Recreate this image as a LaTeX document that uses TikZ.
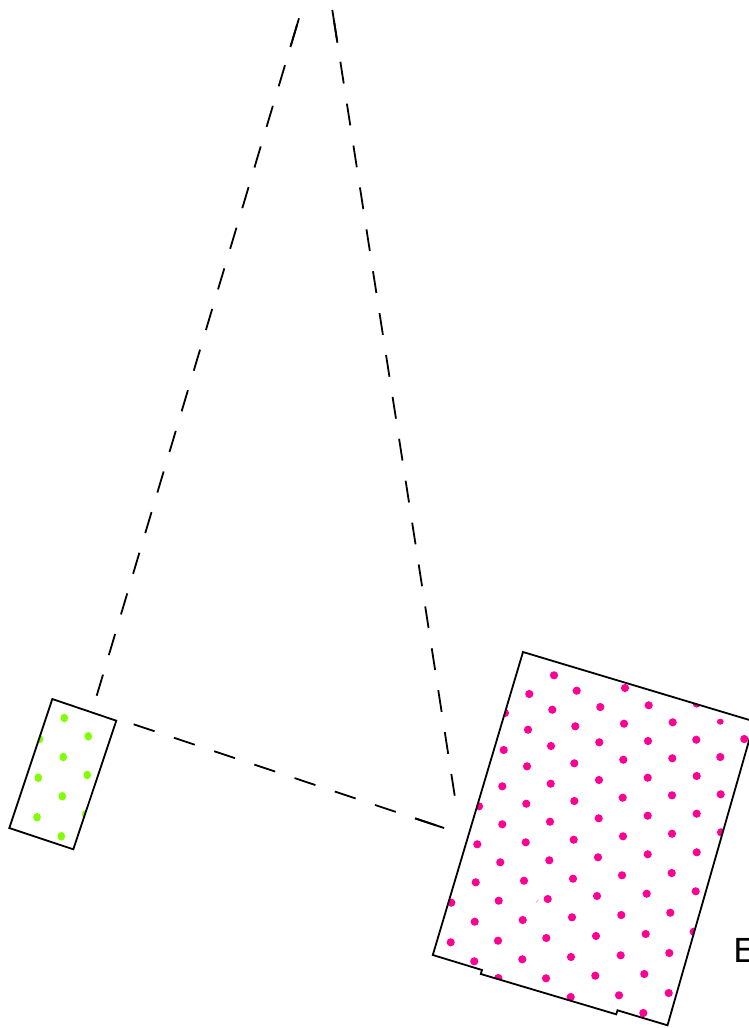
\documentclass[tikz,border=0pt]{standalone}
\usepackage{fontspec}
\setmainfont{DejaVu Sans}
\definecolor{dotpink}{HTML}{FF0094}
\definecolor{dotgreen}{HTML}{80FF00}
\tikzset{
  outline/.style={line width=1.8pt,line join=miter,draw=black},
  dashline/.style={line width=1.8pt,draw=black,dash pattern=on 22pt off 20.4pt},
  dashend/.style={line width=1.8pt,draw=black},
  pinkdot/.style={fill=dotpink,draw=none},
  greendot/.style={fill=dotgreen,draw=none},
  lettertext/.style={anchor=base west,inner sep=0pt,font=\fontsize{33}{33}\selectfont}
}
\begin{document}
\begin{tikzpicture}[x=1pt,y=-1pt]
\clip (0,0) rectangle (749,1028);
% small rectangle
\coordinate (sa) at (52.3,699);
\coordinate (sb) at (116.3,720.7);
\coordinate (sc) at (73.3,849.3);
\coordinate (sd) at (9.3,828);
% large outline
\coordinate (la) at (523,652);
\coordinate (lb) at (754.5,721.5);
\coordinate (lc) at (667.5,1025.3);
\coordinate (ld) at (617.5,1010.3);
\coordinate (le) at (616.2,1014.3);
\coordinate (lf) at (480.8,974);
\coordinate (lg) at (482,970);
\coordinate (lh) at (432.8,955);
% dashed line ends
\coordinate (p1) at (96.7,695.7);
\coordinate (p1m) at (290.4,47);
\coordinate (p1t) at (299,18.3);
\coordinate (p2) at (454.7,795.7);
\coordinate (p2m) at (337.4,42.7);
\coordinate (p2t) at (332.3,10);
\coordinate (p3) at (133.7,724.3);
\coordinate (p3m) at (415,818.3);
\coordinate (p3t) at (444,828);
\begin{scope}
\clip (sa) -- (sb) -- (sc) -- (sd) -- cycle;
\foreach \x/\y in {64.3/718,88.3/736.3,39.5/739,63.3/757,38.3/777.7,87.3/775,62.3/796.3,37/817.3,85.8/814.3,61.3/836.3}
  \fill[greendot] (\x,\y) ellipse[x radius=3.8,y radius=4.3];
\end{scope}
\begin{scope}
\clip (la) -- (lb) -- (lc) -- (ld) -- (le) -- (lf) -- (lg) -- (lh) -- cycle;
\foreach \x/\y in {554/675.3,529.3/694,576.7/690.7,505/713,552.3/709.7,600.3/707,528/729.7,575.3/726.3,503.7/750,551/746,599.3/742.3,527/766.3,574.3/763.3,502.3/786.3,550.7/783.7,599/780,479/806.3,526.3/803.7,574.3/801,502.3/824.3,550/821.7,598.7/818.3,
625/688,648.7/705.3,696.7/703.5,624/723.7,672.7/722.3,744.3/739,648/741,696.3/739.7,623.3/759.7,672.3/758.3,720.3/757,647.7/777.7,696.7/776,622.7/797.7,672/795.3,720.7/794.3,647.7/815.7,696.7/813.7,623/836.3,672/833.7,721/832.3,
477.3/844.3,525.7/842.3,573.7/839.7,500.3/862.3,549.3/860.3,598/857.3,475.7/882.3,524/880.7,573/878.7,451.3/902.7,498.7/900.7,547.7/899,597/896,474.7/921.7,522.7/920,572/917.3,450.7/942.3,498/940.7,546.3/938,596/936,474.3/961.3,522.3/959.3,571/957,498.3/978,546/978.3,595.3/975.7,570.7/997,619/995.3,
647.7/854.3,696.7/852.3,622/875.3,671.7/873,646.7/893.7,695.7/891.3,621.3/915,670.3/912.7,645.7/934,693.7/931.7,620.7/955.3,669.3/953,644.3/974,668.7/993,643.3/1013}
  \fill[pinkdot] (\x,\y) circle[radius=4.1];
\fill[pinkdot] (720.3,721.7) ellipse[x radius=3.4,y radius=3];
\draw[dotpink!40,line width=0.8pt] (536,902.5) -- (538.5,899.5);
\end{scope}
\draw[outline] (sa) -- (sb) -- (sc) -- (sd) -- cycle;
\draw[outline] (la) -- (lb) -- (lc) -- (ld) -- (le) -- (lf) -- (lg) -- (lh) -- cycle;
\draw[dashline] (p1) -- (p1t);
\draw[dashend] (p1m) -- (p1t);
\draw[dashline] (p2) -- (p2t);
\draw[dashend] (p2m) -- (p2t);
\draw[dashline] (p3) -- (p3t);
\draw[dashend] (p3m) -- (p3t);
\node[lettertext] (lbl) at (733,962.7) {E};
\end{tikzpicture}
\end{document}
